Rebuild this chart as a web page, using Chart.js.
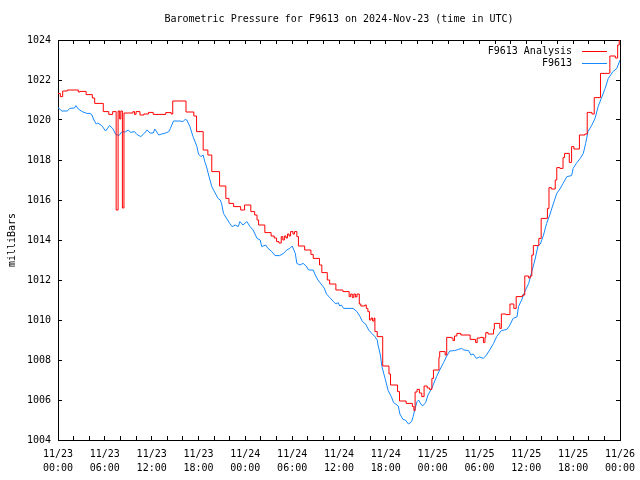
<!DOCTYPE html>
<html>
<head>
<meta charset="utf-8">
<script src="https://cdn.jsdelivr.net/npm/chart.js@4"></script>
<style>
  html, body { margin: 0; padding: 0; background: #fff; }
  canvas { display: block; }
</style>
</head>
<body>
<canvas id="pressureChart" width="640" height="480"></canvas>
<script>
// Hours since 2024-11-23 00:00 UTC and pressure (mbar)
const analysisHours = [0, 0.3, 0.6, 1.2, 2.6, 2.8, 3.6, 4.4, 4.7, 5.8, 6.5, 7.0, 7.45, 7.7, 7.9, 8.05, 8.25, 8.45,
  9.6, 9.8, 10.0, 10.5, 11.0, 11.6, 12.2, 13.8, 14.5, 14.7, 16.4, 17.4, 17.75, 18.6, 19.2, 19.7, 20.7, 21.5, 21.9,
  22.5, 23.4, 23.9, 24.7, 25.2, 25.5, 25.7, 26.5, 27.3, 27.7, 28.0, 28.3, 28.6, 28.8, 29.0, 29.2, 29.4, 29.6, 29.8,
  30.1, 30.3, 30.6, 30.8, 31.6, 32.4, 32.7, 33.5, 33.8, 34.5, 34.8, 35.6, 36.5, 37.3, 37.5, 37.7, 37.9, 38.1, 38.3,
  38.6, 38.8, 39.3, 39.5, 39.7, 39.9, 40.1, 40.3, 40.5, 40.6, 40.9, 41.6, 42.4, 42.6, 43.5, 43.75, 44.6, 45.4, 45.6,
  45.75, 46.0, 46.3, 46.6, 46.9, 47.3, 47.6, 47.9, 48.1, 48.8, 48.9, 49.6, 49.8, 50.4, 50.6, 50.8, 51.1, 51.6, 52.8,
  53.5, 53.7, 54.1, 54.5, 54.7, 54.8, 55.1, 55.8, 55.9, 56.6, 56.8, 57.4, 57.9, 58.4, 58.7, 59.5, 59.8, 60.3, 60.5,
  60.7, 60.9, 61.6, 61.9, 62.7, 62.9, 63.2, 63.7, 63.9, 64.3, 64.7, 64.9, 65.5, 65.8, 66.1, 66.8, 67.5, 67.8, 68.4,
  68.7, 69.5, 70.6, 70.7, 71.4, 71.7, 71.9, 72];
const analysisPressure = [1021.33, 1021.17, 1021.45, 1021.5, 1021.4, 1021.43, 1021.27, 1021.1, 1020.83, 1020.42,
  1020.28, 1020.42, 1015.5, 1020.45, 1020.05, 1020.45, 1015.6, 1020.35, 1020.42, 1020.28, 1020.42, 1020.25, 1020.3,
  1020.38, 1020.28, 1020.37, 1020.3, 1020.95, 1020.4, 1020.2, 1019.42, 1018.5, 1018.25, 1017.42, 1016.7, 1016.08,
  1015.83, 1015.67, 1015.5, 1015.75, 1015.42, 1015.25, 1015.0, 1014.75, 1014.37, 1014.2, 1014.1, 1013.92, 1013.85,
  1014.17, 1014.0, 1014.2, 1014.1, 1014.3, 1014.2, 1014.42, 1014.3, 1014.42, 1014.17, 1013.7, 1013.5, 1013.28,
  1013.08, 1012.75, 1012.37, 1012.0, 1011.8, 1011.5, 1011.42, 1011.17, 1011.3, 1011.12, 1011.3, 1011.15, 1011.3,
  1010.8, 1010.7, 1010.75, 1010.58, 1010.42, 1010.0, 1010.1, 1009.95, 1010.1, 1009.42, 1009.17, 1007.7, 1007.3,
  1006.75, 1006.42, 1005.95, 1005.83, 1005.67, 1005.47, 1006.4, 1006.53, 1006.35, 1006.17, 1006.7, 1006.6, 1006.53,
  1007.08, 1007.5, 1008.13, 1008.42, 1008.25, 1009.13, 1009.1, 1008.97, 1009.2, 1009.33, 1009.25, 1009.03, 1008.87,
  1009.1, 1009.13, 1008.87, 1009.13, 1009.37, 1009.3, 1009.53, 1009.83, 1009.58, 1010.3, 1010.27, 1010.8, 1010.58,
  1011.17, 1011.25, 1012.2, 1012.1, 1012.2, 1013.25, 1013.72, 1014.08, 1015.08, 1015.58, 1016.62, 1016.55, 1017.0,
  1017.62, 1017.58, 1018.12, 1018.33, 1017.88, 1018.67, 1018.55, 1019.25, 1019.3, 1020.38, 1020.3, 1021.12, 1022.33,
  1022.35, 1023.2, 1023.1, 1023.75, 1024, 1024];

const stationHours = [0, 0.5, 1.2, 1.5, 2.1, 2.3, 2.6, 3.1, 3.7, 4.1, 4.35, 4.6, 4.9, 5.1, 5.6, 6.1, 6.6, 7.0, 7.4,
  7.8, 8.2, 8.6, 9.0, 9.3, 9.8, 10.1, 10.6, 11.1, 11.4, 11.8, 12.2, 12.4, 12.9, 13.3, 13.8, 14.2, 14.4, 14.8, 15.6,
  16.0, 16.3, 16.5, 16.9, 17.3, 17.8, 18.0, 18.3, 18.6, 18.8, 19.0, 19.3, 19.7, 20.2, 20.5, 20.8, 21.0, 21.2, 21.6,
  22.0, 22.3, 22.7, 23.1, 23.3, 23.7, 24.2, 24.6, 25.0, 25.5, 25.9, 26.1, 26.6, 26.9, 27.4, 27.8, 28.4, 28.9, 29.3,
  29.7, 30.0, 30.4, 30.6, 31.0, 31.4, 31.8, 32.1, 32.7, 32.9, 33.3, 33.8, 34.1, 34.4, 34.8, 35.3, 35.6, 35.9, 36.1,
  36.3, 36.6, 37.8, 38.3, 38.7, 39.0, 39.4, 39.8, 40.2, 40.6, 40.9, 41.0, 41.3, 41.5, 41.9, 42.3, 42.7, 43.0, 43.6,
  43.8, 44.2, 44.5, 44.9, 45.3, 45.5, 45.7, 46.0, 46.2, 46.4, 46.7, 47.1, 47.4, 47.9, 48.5, 48.9, 49.4, 49.8, 50.2,
  50.8, 51.3, 51.7, 52.0, 52.6, 52.9, 53.2, 53.6, 54.0, 54.5, 54.9, 55.3, 55.8, 56.2, 56.8, 57.5, 57.9, 58.3, 58.8,
  59.0, 59.4, 59.8, 60.3, 60.7, 61.1, 61.5, 61.8, 62.2, 62.6, 63.0, 63.4, 63.9, 64.3, 64.7, 65.2, 65.8, 66.0, 66.4,
  66.9, 67.3, 67.6, 67.9, 68.4, 68.8, 69.2, 69.6, 70.1, 70.5, 71.1, 71.6, 72.0];
const stationPressure = [1020.62, 1020.45, 1020.45, 1020.58, 1020.6, 1020.72, 1020.55, 1020.42, 1020.33, 1020.33,
  1020.25, 1020.0, 1019.8, 1019.85, 1019.72, 1019.45, 1019.72, 1019.58, 1019.28, 1019.22, 1019.42, 1019.4, 1019.5,
  1019.38, 1019.42, 1019.28, 1019.17, 1019.35, 1019.5, 1019.35, 1019.35, 1019.55, 1019.25, 1019.3, 1019.35, 1019.42,
  1019.58, 1019.95, 1019.95, 1019.92, 1020.03, 1020.0, 1019.67, 1019.17, 1018.67, 1018.3, 1018.17, 1018.25, 1017.92,
  1017.7, 1017.25, 1016.67, 1016.3, 1016.08, 1016.0, 1015.75, 1015.33, 1015.08, 1014.83, 1014.67, 1014.75, 1014.67,
  1014.92, 1014.75, 1014.92, 1014.67, 1014.5, 1014.08, 1014.0, 1013.67, 1013.75, 1013.58, 1013.42, 1013.22, 1013.22,
  1013.33, 1013.5, 1013.58, 1013.7, 1013.33, 1012.83, 1012.75, 1012.83, 1012.7, 1012.5, 1012.5, 1012.3, 1012.0,
  1011.75, 1011.6, 1011.3, 1011.13, 1010.92, 1010.8, 1010.87, 1010.7, 1010.75, 1010.58, 1010.58, 1010.42, 1010.17,
  1009.92, 1009.8, 1009.5, 1009.33, 1009.17, 1009.0, 1008.75, 1008.25, 1007.67, 1007.08, 1006.47, 1006.17, 1005.87,
  1005.7, 1005.3, 1005.03, 1005.0, 1004.8, 1004.92, 1005.17, 1005.5, 1005.92, 1006.0, 1005.85, 1005.7, 1005.87,
  1006.25, 1006.6, 1007.17, 1007.5, 1007.87, 1008.2, 1008.45, 1008.47, 1008.53, 1008.58, 1008.5, 1008.47, 1008.25,
  1008.3, 1008.08, 1008.15, 1008.08, 1008.25, 1008.5, 1008.83, 1009.17, 1009.47, 1009.53, 1009.75, 1010.08, 1010.15,
  1010.67, 1011.0, 1011.42, 1011.83, 1012.42, 1013.0, 1013.72, 1013.8, 1014.25, 1014.83, 1015.25, 1015.75, 1016.33,
  1016.55, 1016.83, 1017.17, 1017.22, 1017.58, 1017.83, 1018.08, 1018.33, 1018.83, 1019.42, 1019.75, 1020.08,
  1020.67, 1021.08, 1021.58, 1022.08, 1022.42, 1022.58, 1023.0];

// x tick labels, one pair every 6 hours
const tickDays = ['11/23', '11/23', '11/23', '11/23', '11/24', '11/24', '11/24', '11/24', '11/25', '11/25', '11/25', '11/25', '11/26'];
const tickTimes = ['00:00', '06:00', '12:00', '18:00', '00:00', '06:00', '12:00', '18:00', '00:00', '06:00', '12:00', '18:00', '00:00'];

const analysisColor = '#ff0000';
const stationColor = '#1488ff';

const monoFont = { family: '"DejaVu Sans Mono", "Liberation Mono", monospace', size: 10, lineHeight: 1.4 };

// title and gnuplot style key, drawn on top
const gnuplotText = {
    id: 'gnuplotText',
    afterDraw(chart) {
        const ctx = chart.ctx;
        const area = chart.chartArea;
        ctx.save();
        ctx.font = '10px "DejaVu Sans Mono", "Liberation Mono", monospace';
        ctx.fillStyle = '#000';
        ctx.textBaseline = 'middle';
        ctx.textAlign = 'center';
        ctx.fillText('Barometric Pressure for F9613 on 2024-Nov-23 (time in UTC)', (area.left + area.right) / 2, 19);
        ctx.textAlign = 'right';
        chart.data.datasets.forEach((ds, i) => {
            const y = 51 + i * 12;
            ctx.fillStyle = '#000';
            ctx.fillText(ds.label, area.right - 48, y);
            // key sample line as a 1px bar
            ctx.fillStyle = i === 0 ? analysisColor : stationColor;
            ctx.fillRect(area.right - 38, y, 25, 1);
        });
        ctx.restore();
    }
};

// fixed box sizes so the plot area sits where gnuplot puts it
const fixSize = (size) => (scale) => {
    if (scale.isHorizontal()) scale.height = size; else scale.width = size;
    scale.paddingLeft = 0;
    scale.paddingRight = 0;
    scale.paddingTop = 0;
    scale.paddingBottom = 0;
};

const ctx = document.getElementById('pressureChart').getContext('2d');
const pressureChart = new Chart(ctx, {
    type: 'line',
    data: {
        datasets: [
            {
                label: 'F9613 Analysis',
                data: analysisHours.map((h, i) => ({ x: h, y: analysisPressure[i] })),
                borderColor: analysisColor,
                borderWidth: 1,
                pointRadius: 0,
                stepped: true,
                fill: false
            },
            {
                label: 'F9613',
                data: stationHours.map((h, i) => ({ x: h, y: stationPressure[i] })),
                borderColor: stationColor,
                borderWidth: 1,
                pointRadius: 0,
                tension: 0,
                fill: false
            }
        ]
    },
    options: {
        responsive: false,
        animation: false,
        layout: { padding: { top: 40, right: 20, left: 0, bottom: 0 } },
        scales: {
            x: {
                type: 'linear',
                position: 'bottom',
                min: 0,
                max: 72,
                afterFit: fixSize(40),
                border: { color: '#000', width: 1 },
                grid: { drawOnChartArea: false, tickLength: -4, tickColor: '#000' },
                ticks: {
                    stepSize: 2,
                    autoSkip: false,
                    maxRotation: 0,
                    padding: 11,
                    color: '#000',
                    font: monoFont,
                    callback: (v) => v % 6 === 0 ? [tickDays[v / 6], tickTimes[v / 6]] : ''
                }
            },
            xTop: {
                type: 'linear',
                position: 'top',
                min: 0,
                max: 72,
                afterFit: fixSize(0),
                border: { color: '#000', width: 1 },
                grid: { drawOnChartArea: false, tickLength: -4, tickColor: '#000' },
                ticks: { stepSize: 2, display: false }
            },
            y: {
                position: 'left',
                min: 1004,
                max: 1024,
                afterFit: fixSize(58),
                border: { color: '#000', width: 1 },
                grid: { drawOnChartArea: false, tickLength: -4, tickColor: '#000' },
                ticks: {
                    stepSize: 2,
                    padding: 11,
                    color: '#000',
                    font: monoFont,
                    callback: (v) => String(v)
                },
                title: {
                    display: true,
                    text: 'milliBars',
                    color: '#000',
                    font: { family: monoFont.family, size: 10, lineHeight: 1.2 },
                    padding: { top: 6, bottom: 0 }
                }
            },
            yRight: {
                position: 'right',
                min: 1004,
                max: 1024,
                afterFit: fixSize(0),
                border: { color: '#000', width: 1 },
                grid: { drawOnChartArea: false, tickLength: -4, tickColor: '#000' },
                ticks: { stepSize: 2, display: false }
            }
        },
        plugins: {
            legend: { display: false },
            title: { display: false },
            tooltip: { enabled: false }
        }
    },
    plugins: [gnuplotText]
});
</script>
</body>
</html>
